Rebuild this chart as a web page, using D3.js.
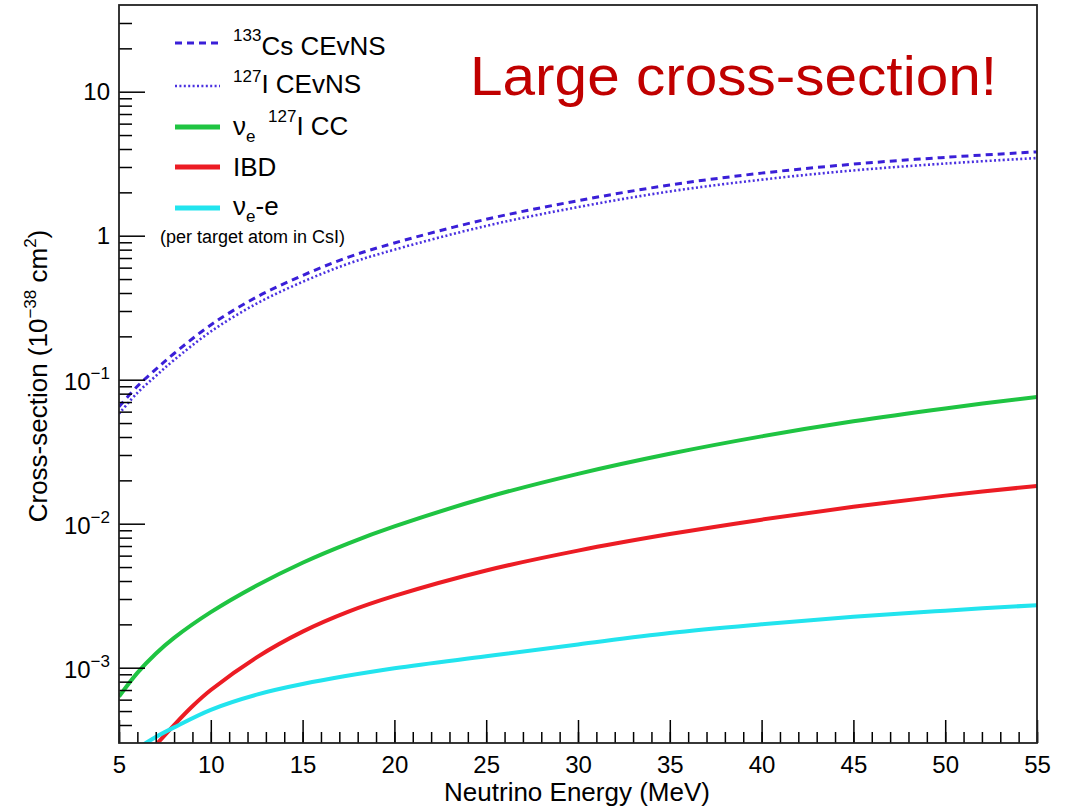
<!DOCTYPE html>
<html>
<head>
<meta charset="utf-8">
<script src="https://cdn.jsdelivr.net/npm/d3@7"></script>
<style>
  body { margin: 0; background: #fff; }
  svg { display: block; }
  text { font-family: "Liberation Sans", Arial, Helvetica, sans-serif; fill: #000; }
</style>
</head>
<body>
<svg id="chart" width="1076" height="808"></svg>
<script>
// Neutrino interaction cross-sections on CsI, per target atom (units of 1e-38 cm^2)

// 133Cs coherent elastic scattering
const csEnergy = [5, 6, 7, 8, 10, 12.5, 15, 17.5, 20, 25, 30, 35, 40, 45, 50, 55];
const csXS     = [0.065, 0.09, 0.118, 0.152, 0.24, 0.375, 0.53, 0.71, 0.89, 1.30, 1.75, 2.25, 2.72, 3.14, 3.50, 3.82];

// 127I coherent elastic scattering
const iEnergy = [5, 6, 7, 8, 10, 12.5, 15, 17.5, 20, 25, 30, 35, 40, 45, 50, 55];
const iXS     = [0.058, 0.081, 0.106, 0.137, 0.216, 0.338, 0.478, 0.64, 0.80, 1.17, 1.58, 2.03, 2.45, 2.84, 3.17, 3.46];

// nu_e charged current on 127I
const ccEnergy = [5, 6, 7, 8, 10, 12.5, 15, 17.5, 20, 25, 30, 35, 40, 45, 50, 55];
const ccXS     = [6.3e-4, 9.2e-4, 1.25e-3, 1.61e-3, 2.43e-3, 3.72e-3, 5.36e-3, 7.31e-3, 9.57e-3, 0.0152, 0.0222, 0.0306, 0.0404, 0.0514, 0.0632, 0.076];

// inverse beta decay
const ibdEnergy = [7, 8, 9, 10, 12.5, 15, 17.5, 20, 25, 30, 35, 40, 45, 50, 55];
const ibdXS     = [2.9e-4, 4.0e-4, 5.4e-4, 7.0e-4, 1.18e-3, 1.78e-3, 2.45e-3, 3.15e-3, 4.73e-3, 6.5e-3, 8.47e-3, 0.01067, 0.0131, 0.01567, 0.0183];

// nu_e - electron elastic scattering
const nueEnergy = [6, 7, 8, 10, 12.5, 15, 20, 25, 30, 35, 40, 45, 50, 55];
const nueXS     = [2.75e-4, 3.3e-4, 3.85e-4, 5.1e-4, 6.5e-4, 7.7e-4, 9.9e-4, 1.2e-3, 1.45e-3, 1.74e-3, 2.0e-3, 2.26e-3, 2.49e-3, 2.72e-3];

// axis ticks
const xMajorTicks = [5, 10, 15, 20, 25, 30, 35, 40, 45, 50, 55];
const yMajorTicks = [1e-3, 1e-2, 1e-1, 1, 10];
const yTickBase   = ["10", "10", "10", "1", "10"];
const yTickExp    = ["\u22123", "\u22122", "\u22121", "", ""];

const svg = d3.select("#chart");
const plotLeft = 119, plotRight = 1037, plotTop = 5, plotBottom = 743;

const x = d3.scaleLinear().domain([5, 55]).range([plotLeft, plotRight]);
const y = d3.scaleLog().domain([3e-4, 40]).range([plotBottom, plotTop]);

svg.append("defs").append("clipPath").attr("id", "plot-clip")
  .append("rect").attr("x", plotLeft).attr("y", plotTop)
  .attr("width", plotRight - plotLeft).attr("height", plotBottom - plotTop);

// ---- curves ----
const series = [
  { e: csEnergy,  v: csXS,  color: "#3a1fd8", width: 3,   dash: "7,5" },
  { e: iEnergy,   v: iXS,   color: "#4a30e0", width: 2.6, dash: "2,2.4" },
  { e: ccEnergy,  v: ccXS,  color: "#1fc442", width: 4,   dash: null },
  { e: ibdEnergy, v: ibdXS, color: "#ec1c24", width: 4,   dash: null },
  { e: nueEnergy, v: nueXS, color: "#22e4ee", width: 4,   dash: null }
];

const line = d3.line()
  .x(d => x(d[0]))
  .y(d => y(d[1]))
  .curve(d3.curveCatmullRom.alpha(0.5));

const curves = svg.append("g").attr("clip-path", "url(#plot-clip)");
series.forEach(s => {
  curves.append("path")
    .datum(d3.zip(s.e, s.v))
    .attr("d", line)
    .attr("fill", "none")
    .attr("stroke", s.color)
    .attr("stroke-width", s.width)
    .attr("stroke-dasharray", s.dash)
    .attr("stroke-linejoin", "round");
});

// ---- axes ----
const fontSizeTick = 24;
const fontStack = "'Liberation Sans', Arial, Helvetica, sans-serif";

// x minor ticks
svg.append("g").attr("transform", `translate(0,${plotBottom})`)
  .call(d3.axisBottom(x).tickValues(d3.range(5, 56, 1)).tickSizeInner(-11).tickSizeOuter(0).tickFormat(""))
  .call(g => g.select(".domain").remove())
  .call(g => g.selectAll("line").attr("stroke", "#000").attr("stroke-width", 1.5));

// x major ticks
svg.append("g").attr("transform", `translate(0,${plotBottom})`)
  .call(d3.axisBottom(x).tickValues(xMajorTicks).tickSizeInner(-23).tickSizeOuter(0).tickPadding(13).tickFormat(d3.format("d")))
  .call(g => g.select(".domain").remove())
  .call(g => g.selectAll("line").attr("stroke", "#000").attr("stroke-width", 1.5))
  .call(g => g.selectAll("text").attr("font-size", fontSizeTick)
     .style("font-family", fontStack).attr("fill", "#000"));

// y minor ticks
const yMinor = [];
for (let p = -4; p <= 1; p++) {
  for (let k = 2; k <= 9; k++) {
    const v = k * Math.pow(10, p);
    if (v > 3.05e-4 && v < 38) yMinor.push(v);
  }
}
svg.append("g").attr("transform", `translate(${plotLeft},0)`)
  .call(d3.axisLeft(y).tickValues(yMinor).tickSizeInner(-13).tickSizeOuter(0).tickFormat(""))
  .call(g => g.select(".domain").remove())
  .call(g => g.selectAll("line").attr("stroke", "#000").attr("stroke-width", 1.5));

// y major ticks with power-of-ten labels
const yAxisG = svg.append("g").attr("transform", `translate(${plotLeft},0)`)
  .call(d3.axisLeft(y).tickValues(yMajorTicks).tickSizeInner(-26).tickSizeOuter(0).tickPadding(9).tickFormat(() => ""))
  .call(g => g.select(".domain").remove())
  .call(g => g.selectAll("line").attr("stroke", "#000").attr("stroke-width", 1.5));

yAxisG.selectAll(".tick text").each(function(d, i) {
  const t = d3.select(this)
    .attr("font-size", fontSizeTick)
    .attr("dy", null)
    .attr("y", yTickExp[i] ? 10 : 8)
    .style("font-family", fontStack)
    .attr("fill", "#000");
  t.append("tspan").text(yTickBase[i]);
  if (yTickExp[i]) {
    t.append("tspan").attr("font-size", 17).attr("dy", -11).text(yTickExp[i]);
  }
});

// frame
svg.append("rect")
  .attr("x", plotLeft).attr("y", plotTop)
  .attr("width", plotRight - plotLeft).attr("height", plotBottom - plotTop)
  .attr("fill", "none").attr("stroke", "#222").attr("stroke-width", 1.8);

// ---- axis titles ----
svg.append("text")
  .attr("x", 577).attr("y", 801)
  .attr("text-anchor", "middle").attr("font-size", 26)
  .text("Neutrino Energy (MeV)");

const yTitle = svg.append("text")
  .attr("transform", "translate(47,376) rotate(-90)")
  .attr("text-anchor", "middle").attr("font-size", 26);
yTitle.append("tspan").text("Cross-section (10");
yTitle.append("tspan").attr("font-size", 17).attr("dy", -11).text("\u221238");
yTitle.append("tspan").attr("dy", 11).text(" cm");
yTitle.append("tspan").attr("font-size", 17).attr("dy", -11).text("2");
yTitle.append("tspan").attr("dy", 11).text(")");

// ---- legend ----
const legendY = [43, 86, 127, 167, 208];
const lg = svg.append("g");
series.forEach((s, i) => {
  lg.append("line")
    .attr("x1", 175).attr("x2", 220)
    .attr("y1", legendY[i]).attr("y2", legendY[i])
    .attr("stroke", s.color)
    .attr("stroke-width", s.dash ? s.width : 5)
    .attr("stroke-dasharray", s.dash);
});

const t1 = lg.append("text").attr("x", 233).attr("y", 55).attr("font-size", 26);
t1.append("tspan").attr("font-size", 17).attr("dy", -14).text("133");
t1.append("tspan").attr("dy", 14).text("Cs CEvNS");

const t2 = lg.append("text").attr("x", 233).attr("y", 93).attr("font-size", 26);
t2.append("tspan").attr("font-size", 17).attr("dy", -11).text("127");
t2.append("tspan").attr("dy", 11).text("I CEvNS");

const t3 = lg.append("text").attr("x", 233).attr("y", 135).attr("font-size", 26);
t3.append("tspan").text("\u03bd");
t3.append("tspan").attr("font-size", 17).attr("dy", 7).text("e");
t3.append("tspan").attr("font-size", 17).attr("x", 268).attr("dy", -20).text("127");
t3.append("tspan").attr("dy", 13).text("I CC");

lg.append("text").attr("x", 233).attr("y", 176).attr("font-size", 26).text("IBD");

const t5 = lg.append("text").attr("x", 233).attr("y", 215).attr("font-size", 26);
t5.append("tspan").text("\u03bd");
t5.append("tspan").attr("font-size", 17).attr("dy", 7).text("e");
t5.append("tspan").attr("dy", -7).text("-e");

lg.append("text").attr("x", 160).attr("y", 243).attr("font-size", 18)
  .text("(per target atom in CsI)");

// ---- headline ----
svg.append("text")
  .attr("x", 470).attr("y", 95)
  .attr("font-size", 56)
  .attr("textLength", 527).attr("lengthAdjust", "spacingAndGlyphs")
  .style("fill", "#c00000")
  .text("Large cross-section!");
</script>
</body>
</html>
